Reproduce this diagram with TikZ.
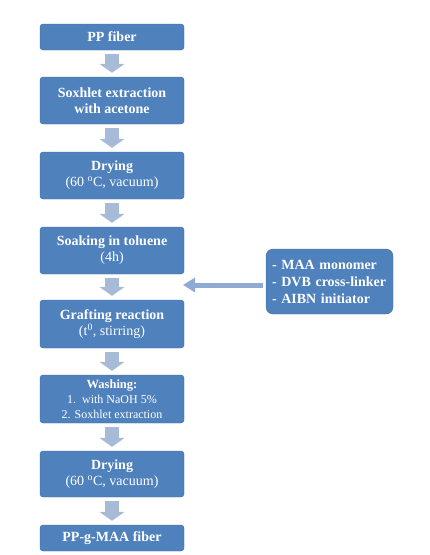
\documentclass[tikz,border=0pt]{standalone}
\usepackage{fontspec}
\setmainfont{Liberation Serif}
\usetikzlibrary{arrows.meta}

\definecolor{boxblue}{HTML}{4F81BD}
\definecolor{boxedge}{HTML}{41719C}
\definecolor{arrowgray}{HTML}{A7BAD8}
\definecolor{sideblue}{HTML}{8FAAD3}

\tikzset{
    stepbox/.style={draw=boxedge, fill=boxblue, text=white, rounded corners=3pt,
                    minimum width=144pt, inner sep=0pt, align=center,
                    font=\fontsize{14}{16}\selectfont},
    downarrow/.style={draw=arrowgray, line width=14pt,
                      -{Triangle[width=25pt,length=9pt]},
                      shorten <=4pt, shorten >=4pt},
    sidearrow/.style={draw=sideblue, line width=5pt,
                      -{Triangle[width=14pt,length=12pt]},
                      shorten <=3pt}
}

\begin{document}
\begin{tikzpicture}[x=1pt, y=-1pt]
    \useasboundingbox (0, 0) rectangle (430, 555);
    % 主流程的方框
    \node [stepbox, minimum height=26pt] (fiber)   at (112, 37)    {\textbf{PP fiber}};
    \node [stepbox, minimum height=47pt] (soxhlet) at (112, 100.5) {\textbf{Soxhlet extraction}\\\textbf{with acetone}};
    \node [stepbox, minimum height=47pt] (dry1)    at (112, 175.5) {\textbf{Drying}\\(60 \textsuperscript{o}C, vacuum)};
    \node [stepbox, minimum height=47pt] (soak)    at (112, 250.5) {\textbf{Soaking in toluene}\\(4h)};
    \node [stepbox, minimum height=48pt] (graft)   at (112, 324)   {\textbf{Grafting reaction}\\(t\textsuperscript{0}, stirring)};
    \node [stepbox, minimum height=48pt, font=\fontsize{12}{15}\selectfont]
                                         (wash)    at (112, 399)   {\textbf{\fontsize{12.5}{15}\selectfont Washing:}\\1.\ \ with NaOH 5\%\\2. Soxhlet extraction};
    \node [stepbox, minimum height=46pt] (dry2)    at (112, 474)   {\textbf{Drying}\\(60 \textsuperscript{o}C, vacuum)};
    \node [stepbox, minimum height=26pt] (product) at (112, 538)   {\textbf{PP-g-MAA fiber}};

    % 试剂方框
    \node [stepbox, minimum width=127pt, minimum height=65pt, rounded corners=7pt,
           inner xsep=6pt, text width=115pt, align=left,
           font=\bfseries\fontsize{14}{17}\selectfont]
          (reagents) at (329.5, 281.5)
          {- MAA monomer\\- DVB cross-linker\\- AIBN initiator};

    % 箭头
    \foreach \a/\b in {fiber/soxhlet, soxhlet/dry1, dry1/soak, soak/graft,
                       graft/wash, wash/dry2, dry2/product}
        \draw [downarrow] (\a.south) -- (\b.north);
    \coordinate (feed) at (183, 285);
    \draw [sidearrow] (reagents.west |- feed) -- (feed);
\end{tikzpicture}
\end{document}
